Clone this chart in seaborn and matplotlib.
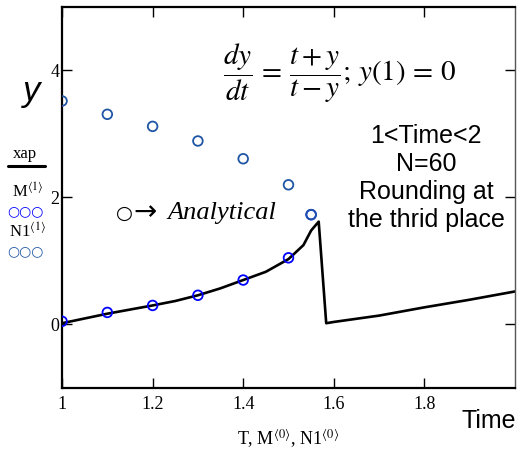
import matplotlib
matplotlib.use("Agg")
import matplotlib.pyplot as plt
import seaborn as sns
import pandas as pd

sns.set_style("ticks")
plt.rcParams['font.family'] = ['Liberation Serif', 'DejaVu Sans']
plt.rcParams['mathtext.fontset'] = 'stix'
plt.rcParams['text.color'] = 'black'
plt.rcParams['axes.labelcolor'] = 'black'
plt.rcParams['xtick.color'] = 'black'
plt.rcParams['ytick.color'] = 'black'
plt.rcParams['axes.edgecolor'] = 'black'

# Numerical solution (line)
t_line = [1.0, 1.1, 1.2, 1.25, 1.3, 1.35, 1.4, 1.45, 1.5, 1.533, 1.55, 1.5667,
          1.5833, 1.6, 1.7, 1.8, 1.9, 2.0]
y_line = [0.02, 0.17, 0.30, 0.37, 0.46, 0.57, 0.70, 0.83, 1.03, 1.25, 1.48, 1.62,
          0.02, 0.04, 0.14, 0.27, 0.39, 0.52]

# Analytical points
t_M = [1.0, 1.1, 1.2, 1.3, 1.4, 1.5, 1.55]
y_M = [0.05, 0.19, 0.30, 0.46, 0.70, 1.05, 1.73]
t_N1 = [1.0, 1.1, 1.2, 1.3, 1.4, 1.5, 1.55]
y_N1 = [3.52, 3.31, 3.12, 2.89, 2.61, 2.20, 1.73]

x_ticks = [1, 1.2, 1.4, 1.6, 1.8]
x_tick_labels = ["1", "1.2", "1.4", "1.6", "1.8"]
y_ticks = [0, 2, 4]
y_tick_labels = ["0", "2", "4"]

df_line = pd.DataFrame({"t": t_line, "y": y_line})
df_M = pd.DataFrame({"t": t_M, "y": y_M})
df_N1 = pd.DataFrame({"t": t_N1, "y": y_N1})

fig = plt.figure(figsize=(5.17, 4.51), dpi=100)
ax = fig.add_axes([0.12, 0.1397, 0.876, 0.8448])

sns.lineplot(data=df_line, x="t", y="y", ax=ax, color="black", linewidth=1.9,
             sort=False, estimator=None)
sns.scatterplot(data=df_M, x="t", y="y", ax=ax, marker="o", s=48,
                facecolors="none", edgecolors="#0000ff", linewidths=1.3, zorder=3)
sns.scatterplot(data=df_N1, x="t", y="y", ax=ax, marker="o", s=48,
                facecolors="none", edgecolors="#1f55a5", linewidths=1.3, zorder=3)

ax.set_xlim(1, 2)
ax.set_ylim(-1, 5)
ax.set_xticks(x_ticks)
ax.set_xticklabels(x_tick_labels)
ax.set_yticks(y_ticks)
ax.set_yticklabels(y_tick_labels)
ax.tick_params(direction="in", length=7, width=1.0, top=True, right=True,
               labelsize=13, pad=2, colors="black")
ax.tick_params(axis="x", pad=6)
for side in ["left", "bottom", "top"]:
    ax.spines[side].set_linewidth(1.6)
ax.spines["right"].set_linewidth(1.0)
ax.spines["right"].set_color("#555555")
ax.set_xlabel("")
ax.set_ylabel("")

# Equation
fig.text(340, 451 - 73, r"$\dfrac{dy}{dt}\,=\,\dfrac{t+y}{t-y};\,y(1)\,=\,0$",
         transform=None, fontsize=21, ha="center", va="center")

# Info block
fig.text(426, 451 - 178, "1<Time<2\nN=60\nRounding at\nthe thrid place",
         transform=None, fontsize=18, ha="center", va="center",
         family="Liberation Sans", linespacing=1.22)

# Analytical note
fig.text(116, 451 - 213, "○", transform=None, fontsize=14, ha="left",
         va="center", family="DejaVu Sans")
fig.text(133, 451 - 212, "→", transform=None, fontsize=20, ha="left",
         va="center", family="DejaVu Sans")
fig.text(167, 451 - 213, "Analytical", transform=None, fontsize=19, ha="left",
         va="center", style="italic")

# y label
fig.text(32, 451 - 91, "y", transform=None, fontsize=25, ha="center",
         va="center", style="italic", family="Liberation Sans")

# Mathcad-style legend
fig.text(25, 451 - 154, "xap", transform=None, fontsize=12, ha="center",
         va="center")
fig.add_artist(plt.Line2D([8 / 517, 45 / 517], [1 - 166 / 451, 1 - 166 / 451],
                          color="black", linewidth=2.2))
fig.text(12, 451 - 192, r"M$^{\langle 1\rangle}$", transform=None, fontsize=12,
         ha="left", va="center")
fig.text(7, 451 - 211, "○○○", transform=None, fontsize=10, ha="left",
         va="center", color="#0000ff", family="DejaVu Sans")
fig.text(9, 451 - 232, r"N1$^{\langle 1\rangle}$", transform=None, fontsize=12,
         ha="left", va="center")
fig.text(7, 451 - 251, "○○○", transform=None, fontsize=10, ha="left",
         va="center", color="#1f55a5", family="DejaVu Sans")

# x label
fig.text(288, 451 - 439, r"T, M$^{\langle 0\rangle}$, N1$^{\langle 0\rangle}$",
         transform=None, fontsize=13, ha="center", va="center")
fig.text(489, 451 - 421, "Time", transform=None, fontsize=18, ha="center",
         va="center", family="Liberation Sans")

fig.savefig("out.png", dpi=100)
